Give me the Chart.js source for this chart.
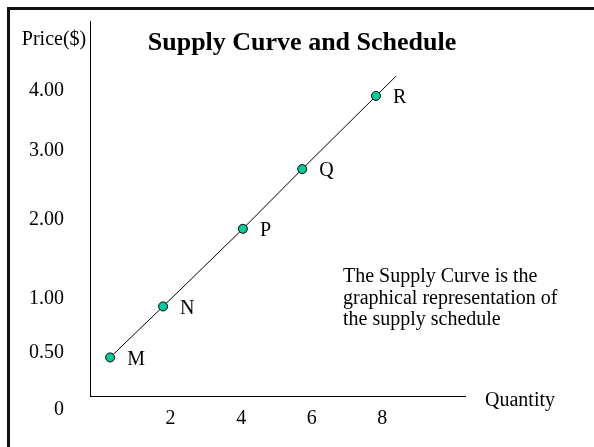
<!DOCTYPE html>
<html>
<head>
<meta charset="utf-8">
<script src="https://cdn.jsdelivr.net/npm/chart.js@4"></script>
<style>
    html, body { margin: 0; padding: 0; background: #fff; }
    #wrap { position: relative; width: 594px; height: 447px; overflow: hidden; }
    #frame { position: absolute; left: 7px; top: 7px; right: 0; bottom: 0; border-left: 3px solid #111; border-top: 3px solid #111; }
    canvas { position: absolute; left: 0; top: 0; }
</style>
</head>
<body>
<div id="wrap">
    <div id="frame"></div>
    <canvas id="supply-chart" width="594" height="447"></canvas>
</div>
<script>
const pointNames = ["M", "N", "P", "Q", "R"];
const quantities = [0.29, 1.79, 4.05, 5.73, 7.82];
const prices = [0.46, 0.93, 1.89, 2.74, 3.92];

// the drawn line runs on a little past R
const curveEndQuantity = 8.39;
const curveEndPrice = 4.25;

const quantityTicks = [2, 4, 6, 8];
const priceTicks = [0, 0.5, 1, 2, 3, 4];
const priceTickLabels = ["0", "0.50", "1.00", "2.00", "3.00", "4.00"];

// the slide spaces its price labels unevenly, so the price axis is stretched to match
const priceTickSpots = [-0.037, 0.115, 0.259, 0.469, 0.653, 0.813];

const noteLines = [
    "The Supply Curve is the",
    "graphical representation of",
    "the supply schedule"
];

const serif = "'Liberation Serif', 'Times New Roman', serif";

let lerpTable = (v, from, to) => {
    let i = 1;
    while (i < from.length - 1 && v > from[i]) i++;
    const t = (v - from[i - 1]) / (from[i] - from[i - 1]);
    return to[i - 1] + t * (to[i] - to[i - 1]);
};

const LinearScale = Chart.registry.getScale("linear");

class PriceScale extends LinearScale {
    buildTicks() {
        return priceTicks.map(v => ({ value: v }));
    }
    getPixelForValue(value) {
        return this.getPixelForDecimal(lerpTable(value, priceTicks, priceTickSpots));
    }
    getValueForPixel(pixel) {
        return lerpTable(this.getDecimalForPixel(pixel), priceTickSpots, priceTicks);
    }
}
PriceScale.id = "price";
PriceScale.defaults = {};
Chart.register(PriceScale);

const slideText = {
    id: "slideText",
    afterDraw(chart) {
        const { ctx, chartArea } = chart;
        ctx.save();
        ctx.fillStyle = "#000";
        ctx.textBaseline = "alphabetic";

        ctx.font = "bold 26px " + serif;
        ctx.textAlign = "center";
        ctx.fillText("Supply Curve and Schedule", 302, 50);

        ctx.font = "20px " + serif;
        ctx.fillText("Price($)", 54, 45);

        ctx.textAlign = "left";
        ctx.fillText("Quantity", chartArea.right + 20, chartArea.bottom + 10);

        noteLines.forEach((line, i) => {
            ctx.fillText(line, 343, 282 + i * 21.65);
        });

        ctx.textBaseline = "middle";
        chart.getDatasetMeta(0).data.forEach((pt, i) => {
            ctx.fillText(pointNames[i], pt.x + 17, pt.y + 2);
        });
        ctx.restore();
    }
};

const tickFont = { family: serif, size: 20 };

const chartData = {
    datasets: [
        {
            label: "Supply schedule",
            data: quantities.map((q, i) => ({ x: q, y: prices[i] })),
            backgroundColor: "#00cc99",
            borderColor: "#000",
            borderWidth: 1,
            pointRadius: 4.5
        },
        {
            label: "Supply curve",
            data: quantities.concat(curveEndQuantity).map((q, i) => ({ x: q, y: prices.concat(curveEndPrice)[i] })),
            showLine: true,
            borderColor: "#000",
            borderWidth: 1,
            pointRadius: 0
        }
    ]
};

const chartOptions = {
    responsive: false,
    animation: false,
    layout: {
        padding: { top: 21, right: 129, left: 0, bottom: 0 }
    },
    plugins: {
        legend: { display: false },
        tooltip: { enabled: false }
    },
    scales: {
        x: {
            type: "linear",
            min: -0.28,
            max: 10.34,
            afterBuildTicks: scale => {
                scale.ticks = quantityTicks.map(v => ({ value: v }));
            },
            afterFit: scale => {
                scale.height = 51;
                scale.paddingLeft = 0;
                scale.paddingRight = 0;
            },
            border: { display: true, color: "#000", width: 1 },
            grid: { display: false, drawTicks: false },
            ticks: {
                autoSkip: false,
                maxRotation: 0,
                padding: 11,
                color: "#000",
                font: tickFont,
                callback: v => String(v)
            }
        },
        y: {
            type: "price",
            min: 0.12,
            max: 5.17,
            afterFit: scale => {
                scale.width = 90;
                scale.paddingTop = 0;
                scale.paddingBottom = 0;
            },
            border: { display: true, color: "#000", width: 1 },
            grid: { display: false, drawTicks: false },
            ticks: {
                autoSkip: false,
                padding: 26,
                color: "#000",
                font: tickFont,
                callback: (v, i) => priceTickLabels[i]
            }
        }
    }
};

new Chart("supply-chart", {
    type: "scatter",
    data: chartData,
    options: chartOptions,
    plugins: [slideText]
});
</script>
</body>
</html>
